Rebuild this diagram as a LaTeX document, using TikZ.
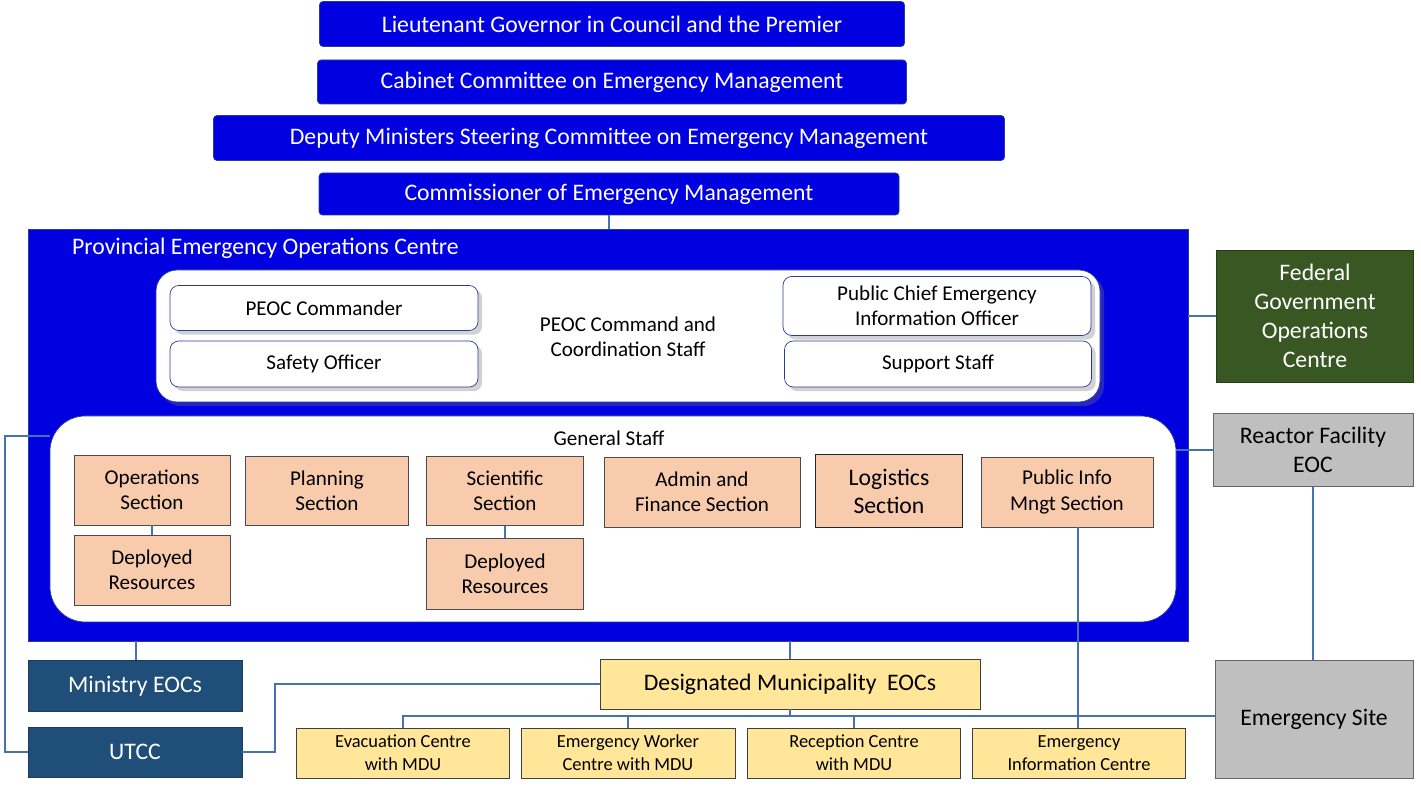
\documentclass[tikz,border=0pt]{standalone}
\usepackage{fontspec}
\setmainfont{Carlito}
\usetikzlibrary{shadows}
\newcommand{\PEOCpx}{0.02}
\definecolor{govblue}{RGB}{0,0,225}
\definecolor{govedge}{RGB}{40,60,150}
\definecolor{linkblue}{RGB}{70,114,180}
\definecolor{secfill}{RGB}{248,203,173}
\definecolor{yelfill}{RGB}{255,230,153}
\definecolor{navybox}{RGB}{31,78,121}
\definecolor{fedgreen}{RGB}{56,87,35}
\definecolor{greybox}{RGB}{191,191,191}

\begin{document}
\begin{tikzpicture}[x=0.02cm, y=-0.02cm,
	size/.style 2 args={minimum width=#1*\PEOCpx cm, minimum height=#2*\PEOCpx cm, inner sep=1pt, align=center},
	govbox/.style={draw=govedge, fill=govblue, rounded corners=2pt, text=white, font=\fontsize{13.5}{15}\selectfont},
	staffbox/.style={draw=govedge, fill=white, rounded corners=5pt, drop shadow={opacity=0.35}, font=\fontsize{12}{14}\selectfont},
	secbox/.style={draw=black!70, fill=secfill, font=\fontsize{12}{14.5}\selectfont},
	yelbox/.style={draw=black!75, fill=yelfill},
	link/.style={draw=linkblue, line width=1.2pt}]
		\useasboundingbox (0,0) rectangle (1421,793);
		% governance chain
		\node[govbox, size={585}{45}] (ltgov) at (612,24) {Lieutenant Governor in Council and the Premier};
		\node[govbox, size={589}{44}] (cabinet) at (612,82) {Cabinet Committee on Emergency Management};
		\node[govbox, size={791}{45}] (deputy) at (609,138) {Deputy Ministers Steering Committee on Emergency Management};
		\node[govbox, size={580}{42}] (commish) at (609,194) {Commissioner of Emergency Management};
		% PEOC
		\node[draw=govedge, fill=govblue, size={1160}{412}] (peoc) at (608,435) {};
		\node[anchor=west, text=white, font=\fontsize{13.5}{15}\selectfont] (peoctitle) at (66,248) {Provincial Emergency Operations Centre};
		\node[draw=govedge, fill=white, rounded corners=12pt, size={944}{132}, drop shadow={opacity=0.3}] (command) at (628,336) {};
		\node[staffbox, size={308}{45}] (commander) at (324,308) {PEOC Commander};
		\node[staffbox, size={308}{46}] (safety) at (324,364) {Safety Officer};
		\node[font=\fontsize{12}{14.5}\selectfont, align=center] (cmdlabel) at (628,337) {PEOC Command and\\Coordination Staff};
		\node[staffbox, size={308}{59}] (pcio) at (937,306) {Public Chief Emergency\\Information Officer};
		\node[staffbox, size={307}{46}] (support) at (938,364) {Support Staff};
		\node[draw=govedge, fill=white, rounded corners=20pt, size={1126}{206}] (general) at (613,519) {};
		\node[font=\fontsize{12}{14}\selectfont] (genlabel) at (609,438) {General Staff};
		\node[secbox, size={156}{70}] (ops) at (152,490) {Operations\\Section};
		\node[secbox, size={156}{70}] (opsdep) at (152,570) {Deployed\\Resources};
		\node[secbox, size={163}{69}] (plan) at (327,491) {Planning\\Section};
		\node[secbox, size={157}{69}] (sci) at (505,491) {Scientific\\Section};
		\node[secbox, size={157}{71}] (scidep) at (505,574) {Deployed\\Resources};
		\node[secbox, size={196}{70}] (admin) at (702,492) {Admin and\\Finance Section};
		\node[secbox, draw=black!85, line width=0.9pt, size={147}{73}, font=\fontsize{13.5}{16}\selectfont] (logist) at (889,491) {Logistics\\Section};
		\node[secbox, size={172}{70}] (pubinfo) at (1067,492) {Public Info\\Mngt Section};
		% outside bodies
		\node[draw=fedgreen!70!black, fill=fedgreen, text=white, size={197}{132}, font=\fontsize{13.5}{16.5}\selectfont] (federal) at (1315,316) {Federal\\Government\\Operations\\Centre};
		\node[draw=black!60, fill=greybox, size={200}{73}, font=\fontsize{13.5}{16.5}\selectfont] (reactor) at (1313,450) {Reactor Facility\\EOC};
		\node[draw=black!60, fill=greybox, size={198}{118}, font=\fontsize{13.5}{16}\selectfont] (site) at (1314,719) {Emergency Site};
		\node[draw=navybox!80!black, fill=navybox, text=white, size={214}{51}, font=\fontsize{13.5}{16}\selectfont] (ministry) at (135,686) {Ministry EOCs};
		\node[draw=navybox!80!black, fill=navybox, text=white, size={214}{50}, font=\fontsize{13.5}{16}\selectfont] (utcc) at (135,752) {UTCC};
		\node[yelbox, size={380}{50}, font=\fontsize{13.5}{16}\selectfont] (dmeoc) at (790,684) {Designated Municipality\ \ EOCs};
		\node[yelbox, size={213}{50}, font=\fontsize{10.5}{13}\selectfont] (evac) at (403,753) {Evacuation Centre\\with MDU};
		\node[yelbox, size={214}{50}, font=\fontsize{10.5}{13}\selectfont] (worker) at (628,753) {Emergency Worker\\Centre with MDU};
		\node[yelbox, size={213}{50}, font=\fontsize{10.5}{13}\selectfont] (recept) at (854,753) {Reception Centre\\with MDU};
		\node[yelbox, size={213}{50}, font=\fontsize{10.5}{13}\selectfont] (einfo) at (1079,753) {Emergency\\Information Centre};
		% connectors
		\coordinate (bus) at (790,716);
		\coordinate (leftrail) at (5,436);
		\begin{scope}[on background layer/.style={}]
			\draw[link] (commish.south) -- (peoc.north -| commish.south);
			\draw[link] (ops.south) -- (opsdep.north);
			\draw[link] (sci.south) -- (scidep.north);
			\draw[link] (peoc.east |- federal.west) -- (federal.west);
			\draw[link] (general.east |- reactor.west) -- (reactor.west);
			\draw[link] (reactor.south) -- (site.north -| reactor.south);
			\draw[link] (136,641) -- (ministry.north -| 136,0);
			\draw[link] (general.west |- leftrail) -- (leftrail) |- (utcc.west);
			\draw[link] (utcc.east) -| (275,684) -- (dmeoc.west);
			\draw[link] (790,641) -- (dmeoc.north);
			\draw[link] (dmeoc.south) -- (bus);
			\draw[link] (evac.north) |- (site.west |- bus);
			\draw[link] (worker.north) -- (worker.north |- bus);
			\draw[link] (recept.north) -- (recept.north |- bus);
			\draw[link] (pubinfo.south -| 1078,0) -- (einfo.north -| 1078,0);
		\end{scope}
\end{tikzpicture}
\end{document}
